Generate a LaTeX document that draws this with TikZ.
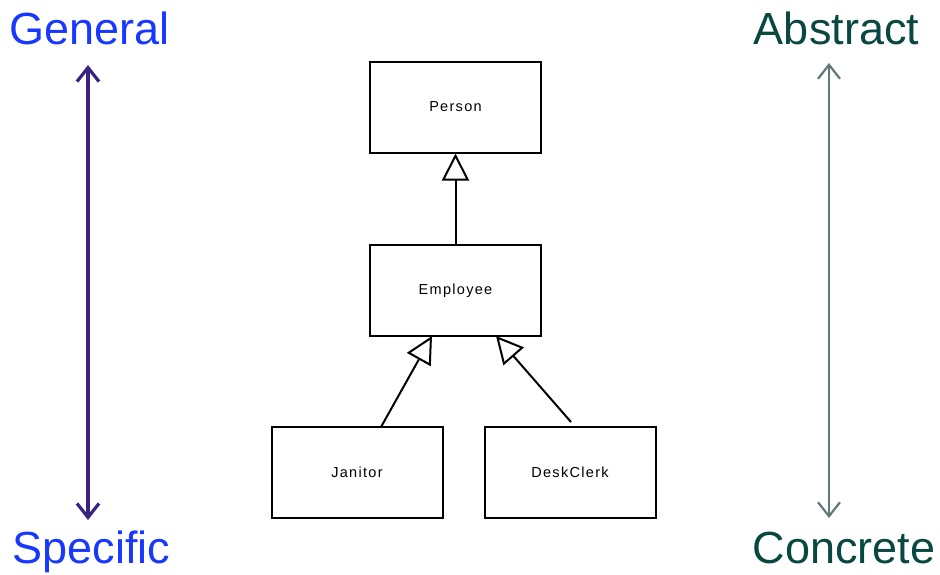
\documentclass[tikz,border=0pt]{standalone}
\usepackage{fontspec}
\setmainfont{Liberation Sans}
\newfontfamily\spacedfont[LetterSpace=9]{Liberation Sans}
\usetikzlibrary{arrows.meta}
\definecolor{genblue}{RGB}{24,56,255}
\definecolor{genpurple}{RGB}{58,34,128}
\definecolor{absteal}{RGB}{8,72,64}
\definecolor{absgray}{RGB}{96,120,120}
\tikzset{
  classbox/.style={draw=black, line width=2pt, minimum width=171pt, minimum height=91pt, inner sep=0pt, font=\spacedfont\fontsize{14.5}{16}\selectfont},
  bigblue/.style={text=genblue, font=\fontsize{45}{50}\selectfont, anchor=base, inner sep=0pt},
  bigteal/.style={text=absteal, font=\fontsize{45}{50}\selectfont, anchor=base, inner sep=0pt},
  inherit/.style={draw=black, line width=2pt, -{Triangle[open, length=27pt, width=27pt, line width=2pt]}},
  scalearrow/.style={{Straight Barb[length=14pt, width=22pt]}-{Straight Barb[length=14pt, width=22pt]}}
}
\begin{document}
\begin{tikzpicture}[x=1pt,y=-1pt]
\useasboundingbox (0,0) rectangle (940,574);
\node[classbox] (person) at (455.5,107) {Person};
\node[classbox] (employee) at (455.5,290.5) {Employee};
\node[classbox] (janitor) at (357,472) {Janitor};
\node[classbox] (clerk) at (570,472) {DeskClerk};
\coordinate (jstart) at (381,427);
\coordinate (jend) at (432,336);
\coordinate (cstart) at (571,422);
\coordinate (cend) at (496,336);
\draw[inherit] (employee.north) -- (person.south);
\draw[inherit] (jstart) -- (jend);
\draw[inherit] (cstart) -- (cend);
\node[bigblue] (general) at (89.5,44) {General};
\node[bigblue] (specific) at (91.5,563) {Specific};
\node[bigteal] (abstract) at (836.5,44) {Abstract};
\node[bigteal] (concrete) at (844,563) {Concrete};
\coordinate (lt) at (88,65);
\coordinate (lb) at (88,520);
\coordinate (rt) at (829,63);
\coordinate (rb) at (829,518);
\draw[scalearrow, genpurple, line width=3.2pt] (lt) -- (lb);
\draw[scalearrow, absgray, line width=2.2pt] (rt) -- (rb);
\end{tikzpicture}
\end{document}
